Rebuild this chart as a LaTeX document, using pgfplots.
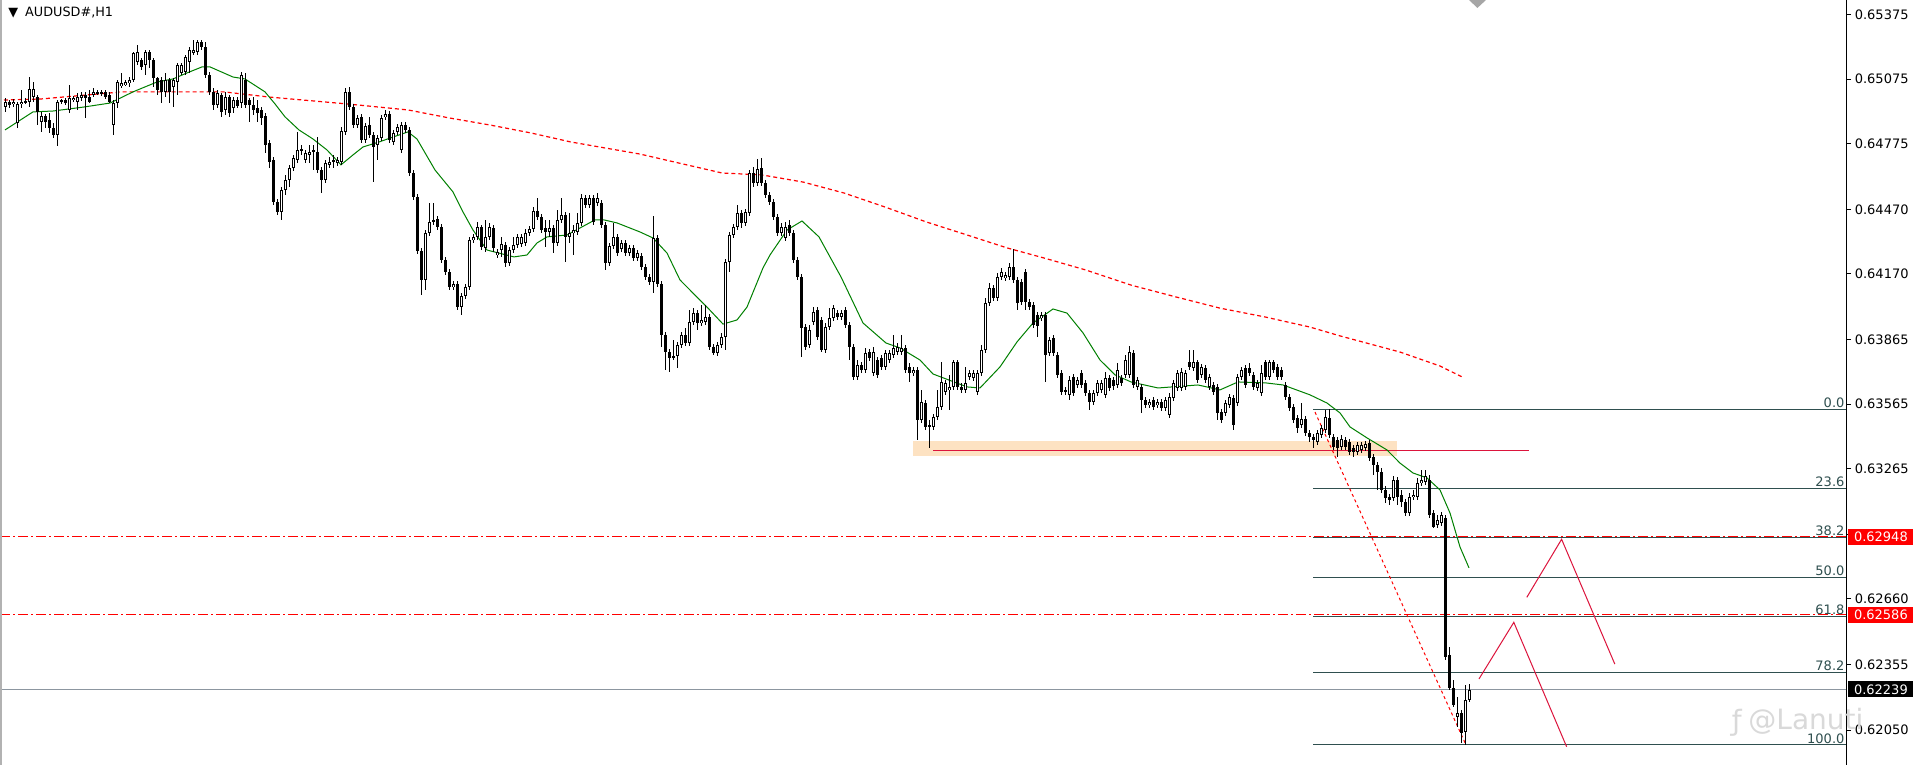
\documentclass[border=0pt]{standalone}
\usepackage{pgfplots}
\usepackage{pgfplotstable}
\pgfplotsset{compat=1.18}
\usepackage{fontspec}
\setmainfont{DejaVu Sans}
\definecolor{fibc}{RGB}{47,79,79}
\definecolor{crim}{RGB}{220,20,60}
\definecolor{boxc}{RGB}{253,226,194}
\definecolor{curc}{RGB}{140,150,160}
\definecolor{mag}{RGB}{0,128,0}

\pgfplotstableread{
i o h l c
0 0.64945 0.64988 0.64923 0.64969
1 0.64969 0.64978 0.64941 0.64955
2 0.64959 0.64983 0.64945 0.64969
3 0.64871 0.64969 0.64848 0.64959
4 0.64959 0.65025 0.64941 0.64969
5 0.64969 0.64988 0.64959 0.64973
6 0.64969 0.65085 0.64945 0.65029
7 0.64992 0.65062 0.64969 0.65029
8 0.64992 0.65002 0.64862 0.64923
9 0.64876 0.64923 0.64830 0.64904
10 0.64904 0.64913 0.64848 0.64876
11 0.64885 0.64918 0.64825 0.64848
12 0.64848 0.64871 0.64802 0.64816
13 0.64816 0.64978 0.64764 0.64969
14 0.64969 0.64983 0.64959 0.64978
15 0.64978 0.64988 0.64955 0.64964
16 0.64932 0.65048 0.64918 0.64988
17 0.64978 0.64997 0.64969 0.64988
18 0.64969 0.65011 0.64932 0.64992
19 0.64988 0.65016 0.64973 0.65002
20 0.65002 0.65016 0.64895 0.64988
21 0.64992 0.65025 0.64964 0.64969
22 0.65002 0.65034 0.64992 0.65016
23 0.65011 0.65025 0.65002 0.65016
24 0.65016 0.65025 0.64997 0.65006
25 0.65016 0.65025 0.64983 0.64992
26 0.65002 0.65016 0.64964 0.64969
27 0.64862 0.64978 0.64816 0.64964
28 0.64964 0.65071 0.64941 0.65062
29 0.65043 0.65104 0.65034 0.65057
30 0.65048 0.65071 0.65043 0.65062
31 0.65057 0.65085 0.65038 0.65071
32 0.65071 0.65202 0.65062 0.65197
33 0.65155 0.65234 0.65141 0.65202
34 0.65164 0.65174 0.65118 0.65131
35 0.65141 0.65211 0.65095 0.65202
36 0.65202 0.65211 0.65127 0.65164
37 0.65164 0.65174 0.65038 0.65081
38 0.65081 0.65085 0.65002 0.65025
39 0.65071 0.65085 0.64964 0.65016
40 0.65016 0.65104 0.64992 0.65071
41 0.65071 0.65081 0.64964 0.65016
42 0.65038 0.65081 0.64945 0.65071
43 0.65062 0.65150 0.65002 0.65141
44 0.65104 0.65150 0.65095 0.65141
45 0.65109 0.65188 0.65095 0.65178
46 0.65155 0.65225 0.65104 0.65211
47 0.65197 0.65257 0.65188 0.65211
48 0.65202 0.65257 0.65188 0.65248
49 0.65248 0.65257 0.65211 0.65225
50 0.65225 0.65248 0.65081 0.65095
51 0.65095 0.65109 0.65002 0.65016
52 0.65016 0.65034 0.64932 0.64955
53 0.64955 0.65025 0.64941 0.65011
54 0.65002 0.65011 0.64900 0.64923
55 0.64932 0.65016 0.64909 0.64992
56 0.64992 0.65002 0.64900 0.64918
57 0.64941 0.64992 0.64918 0.64978
58 0.64978 0.64992 0.64941 0.64950
59 0.64964 0.65109 0.64941 0.65095
60 0.65071 0.65104 0.64941 0.64955
61 0.64978 0.64988 0.64876 0.64955
62 0.64955 0.64992 0.64909 0.64932
63 0.64941 0.64978 0.64876 0.64918
64 0.64932 0.64945 0.64862 0.64895
65 0.64904 0.64918 0.64732 0.64769
66 0.64778 0.64792 0.64663 0.64691
67 0.64700 0.64714 0.64490 0.64505
68 0.64505 0.64519 0.64444 0.64458
69 0.64458 0.64574 0.64421 0.64560
70 0.64560 0.64630 0.64537 0.64607
71 0.64607 0.64677 0.64574 0.64663
72 0.64663 0.64723 0.64649 0.64709
73 0.64700 0.64830 0.64686 0.64746
74 0.64751 0.64769 0.64723 0.64741
75 0.64700 0.64746 0.64686 0.64732
76 0.64723 0.64769 0.64686 0.64737
77 0.64746 0.64769 0.64653 0.64737
78 0.64737 0.64806 0.64639 0.64653
79 0.64653 0.64667 0.64546 0.64607
80 0.64607 0.64700 0.64593 0.64686
81 0.64677 0.64714 0.64663 0.64691
82 0.64695 0.64723 0.64663 0.64700
83 0.64686 0.64714 0.64672 0.64700
84 0.64691 0.64853 0.64677 0.64834
85 0.64830 0.65034 0.64816 0.65016
86 0.65016 0.65038 0.64932 0.64945
87 0.64945 0.64959 0.64848 0.64862
88 0.64862 0.64909 0.64848 0.64895
89 0.64900 0.64913 0.64778 0.64792
90 0.64792 0.64871 0.64778 0.64857
91 0.64862 0.64900 0.64802 0.64816
92 0.64816 0.64830 0.64598 0.64760
93 0.64769 0.64816 0.64700 0.64802
94 0.64802 0.64909 0.64788 0.64895
95 0.64900 0.64932 0.64885 0.64913
96 0.64913 0.64927 0.64778 0.64792
97 0.64783 0.64839 0.64769 0.64825
98 0.64830 0.64867 0.64816 0.64853
99 0.64746 0.64876 0.64732 0.64862
100 0.64862 0.64876 0.64825 0.64839
101 0.64839 0.64853 0.64625 0.64639
102 0.64639 0.64653 0.64514 0.64528
103 0.64528 0.64542 0.64263 0.64277
104 0.64277 0.64291 0.64072 0.64142
105 0.64142 0.64374 0.64095 0.64360
106 0.64360 0.64500 0.64346 0.64412
107 0.64412 0.64500 0.64398 0.64421
108 0.64425 0.64440 0.64374 0.64388
109 0.64388 0.64402 0.64221 0.64235
110 0.64235 0.64249 0.64165 0.64179
111 0.64179 0.64193 0.64095 0.64109
112 0.64109 0.64137 0.64095 0.64123
113 0.64123 0.64137 0.64002 0.64016
114 0.64016 0.64081 0.63979 0.64067
115 0.64067 0.64123 0.64053 0.64109
116 0.64109 0.64342 0.64095 0.64328
117 0.64328 0.64356 0.64314 0.64342
118 0.64342 0.64412 0.64328 0.64388
119 0.64388 0.64398 0.64281 0.64295
120 0.64291 0.64421 0.64272 0.64342
121 0.64342 0.64407 0.64328 0.64388
122 0.64384 0.64398 0.64272 0.64291
123 0.64258 0.64286 0.64244 0.64272
124 0.64281 0.64342 0.64249 0.64309
125 0.64305 0.64319 0.64202 0.64221
126 0.64221 0.64295 0.64207 0.64281
127 0.64281 0.64342 0.64267 0.64305
128 0.64305 0.64356 0.64291 0.64342
129 0.64309 0.64356 0.64295 0.64342
130 0.64314 0.64379 0.64300 0.64360
131 0.64360 0.64393 0.64346 0.64379
132 0.64379 0.64481 0.64365 0.64463
133 0.64463 0.64523 0.64421 0.64435
134 0.64435 0.64449 0.64360 0.64374
135 0.64384 0.64421 0.64295 0.64365
136 0.64365 0.64421 0.64342 0.64384
137 0.64384 0.64398 0.64267 0.64314
138 0.64314 0.64467 0.64300 0.64421
139 0.64421 0.64523 0.64407 0.64444
140 0.64444 0.64458 0.64226 0.64342
141 0.64342 0.64453 0.64314 0.64360
142 0.64360 0.64398 0.64258 0.64374
143 0.64365 0.64453 0.64351 0.64407
144 0.64407 0.64542 0.64393 0.64523
145 0.64523 0.64537 0.64477 0.64490
146 0.64490 0.64537 0.64477 0.64523
147 0.64523 0.64537 0.64398 0.64412
148 0.64500 0.64546 0.64486 0.64523
149 0.64500 0.64514 0.64384 0.64398
150 0.64398 0.64412 0.64188 0.64221
151 0.64221 0.64314 0.64207 0.64300
152 0.64300 0.64407 0.64286 0.64342
153 0.64342 0.64356 0.64253 0.64267
154 0.64286 0.64328 0.64272 0.64314
155 0.64314 0.64328 0.64253 0.64267
156 0.64267 0.64305 0.64253 0.64291
157 0.64291 0.64305 0.64230 0.64244
158 0.64244 0.64281 0.64230 0.64267
159 0.64253 0.64267 0.64188 0.64202
160 0.64202 0.64216 0.64142 0.64156
161 0.64156 0.64170 0.64118 0.64132
162 0.64132 0.64440 0.64081 0.64337
163 0.64337 0.64351 0.64109 0.64123
164 0.64123 0.64137 0.63831 0.63886
165 0.63886 0.63900 0.63724 0.63808
166 0.63808 0.63821 0.63714 0.63780
167 0.63780 0.63863 0.63770 0.63789
168 0.63789 0.63854 0.63733 0.63840
169 0.63840 0.63900 0.63826 0.63886
170 0.63886 0.63919 0.63835 0.63849
171 0.63849 0.64002 0.63835 0.63947
172 0.63947 0.64011 0.63933 0.63988
173 0.63988 0.64002 0.63910 0.63942
174 0.63942 0.64025 0.63928 0.63956
175 0.63947 0.64025 0.63933 0.63970
176 0.63970 0.63984 0.63817 0.63831
177 0.63831 0.63845 0.63794 0.63803
178 0.63803 0.63854 0.63789 0.63840
179 0.63840 0.63896 0.63826 0.63877
180 0.63877 0.64240 0.63817 0.64226
181 0.64226 0.64365 0.64179 0.64351
182 0.64351 0.64402 0.64337 0.64388
183 0.64388 0.64490 0.64374 0.64453
184 0.64453 0.64467 0.64384 0.64407
185 0.64407 0.64472 0.64393 0.64458
186 0.64453 0.64653 0.64440 0.64639
187 0.64639 0.64667 0.64574 0.64593
188 0.64593 0.64704 0.64579 0.64658
189 0.64663 0.64709 0.64579 0.64593
190 0.64593 0.64607 0.64523 0.64537
191 0.64537 0.64551 0.64490 0.64505
192 0.64505 0.64519 0.64421 0.64435
193 0.64435 0.64449 0.64346 0.64360
194 0.64360 0.64407 0.64346 0.64388
195 0.64337 0.64412 0.64323 0.64388
196 0.64398 0.64421 0.64346 0.64360
197 0.64360 0.64374 0.64221 0.64235
198 0.64235 0.64249 0.64142 0.64156
199 0.64156 0.64170 0.63784 0.63919
200 0.63924 0.63938 0.63817 0.63831
201 0.63840 0.63933 0.63826 0.63910
202 0.63947 0.64016 0.63933 0.63993
203 0.64002 0.64016 0.63863 0.63877
204 0.63956 0.63970 0.63808 0.63817
205 0.63817 0.63942 0.63803 0.63924
206 0.63924 0.64011 0.63910 0.63965
207 0.63965 0.64025 0.63951 0.64011
208 0.63988 0.64002 0.63956 0.63970
209 0.63970 0.64002 0.63956 0.63988
210 0.64002 0.64016 0.63919 0.63933
211 0.63933 0.63947 0.63770 0.63831
212 0.63831 0.63845 0.63677 0.63691
213 0.63691 0.63770 0.63677 0.63747
214 0.63747 0.63761 0.63710 0.63724
215 0.63724 0.63826 0.63710 0.63803
216 0.63808 0.63821 0.63766 0.63780
217 0.63710 0.63831 0.63696 0.63808
218 0.63770 0.63784 0.63687 0.63701
219 0.63780 0.63794 0.63724 0.63738
220 0.63738 0.63817 0.63724 0.63803
221 0.63770 0.63817 0.63756 0.63803
222 0.63794 0.63886 0.63780 0.63826
223 0.63808 0.63849 0.63794 0.63831
224 0.63808 0.63886 0.63794 0.63826
225 0.63826 0.63840 0.63710 0.63724
226 0.63738 0.63756 0.63668 0.63710
227 0.63710 0.63738 0.63696 0.63724
228 0.63724 0.63738 0.63398 0.63491
229 0.63491 0.63631 0.63477 0.63575
230 0.63570 0.63584 0.63445 0.63459
231 0.63468 0.63491 0.63361 0.63459
232 0.63459 0.63519 0.63445 0.63505
233 0.63505 0.63631 0.63491 0.63551
234 0.63551 0.63761 0.63538 0.63668
235 0.63622 0.63677 0.63608 0.63664
236 0.63631 0.63701 0.63538 0.63645
237 0.63645 0.63770 0.63631 0.63761
238 0.63761 0.63770 0.63631 0.63645
239 0.63645 0.63664 0.63617 0.63631
240 0.63631 0.63738 0.63617 0.63664
241 0.63691 0.63724 0.63677 0.63710
242 0.63687 0.63724 0.63673 0.63710
243 0.63622 0.63724 0.63608 0.63710
244 0.63710 0.63840 0.63696 0.63817
245 0.63817 0.64058 0.63803 0.64035
246 0.64035 0.64128 0.64021 0.64104
247 0.64104 0.64118 0.64044 0.64058
248 0.64058 0.64174 0.64044 0.64156
249 0.64156 0.64198 0.64142 0.64179
250 0.64151 0.64179 0.64137 0.64165
251 0.64156 0.64221 0.64142 0.64202
252 0.64202 0.64286 0.64128 0.64142
253 0.64142 0.64156 0.64002 0.64035
254 0.64132 0.64146 0.64025 0.64039
255 0.64179 0.64193 0.64002 0.64039
256 0.64039 0.64053 0.64002 0.64016
257 0.64025 0.64039 0.63919 0.63933
258 0.63979 0.63993 0.63877 0.63928
259 0.63965 0.63993 0.63951 0.63979
260 0.63979 0.63993 0.63668 0.63794
261 0.63803 0.63877 0.63789 0.63863
262 0.63872 0.63886 0.63789 0.63803
263 0.63794 0.63808 0.63687 0.63701
264 0.63710 0.63724 0.63608 0.63622
265 0.63622 0.63645 0.63608 0.63631
266 0.63608 0.63696 0.63584 0.63677
267 0.63691 0.63705 0.63603 0.63617
268 0.63654 0.63691 0.63640 0.63677
269 0.63710 0.63724 0.63640 0.63654
270 0.63664 0.63677 0.63603 0.63617
271 0.63617 0.63631 0.63538 0.63575
272 0.63575 0.63631 0.63561 0.63617
273 0.63617 0.63677 0.63603 0.63664
274 0.63631 0.63677 0.63617 0.63664
275 0.63608 0.63714 0.63594 0.63687
276 0.63687 0.63701 0.63626 0.63640
277 0.63677 0.63691 0.63631 0.63650
278 0.63654 0.63756 0.63640 0.63724
279 0.63687 0.63701 0.63650 0.63664
280 0.63701 0.63794 0.63687 0.63770
281 0.63701 0.63835 0.63687 0.63808
282 0.63803 0.63817 0.63640 0.63654
283 0.63645 0.63691 0.63631 0.63677
284 0.63645 0.63659 0.63524 0.63584
285 0.63584 0.63598 0.63547 0.63561
286 0.63561 0.63589 0.63547 0.63575
287 0.63584 0.63598 0.63538 0.63551
288 0.63561 0.63589 0.63547 0.63575
289 0.63575 0.63589 0.63533 0.63547
290 0.63547 0.63598 0.63533 0.63584
291 0.63514 0.63617 0.63500 0.63598
292 0.63594 0.63677 0.63580 0.63664
293 0.63640 0.63724 0.63626 0.63710
294 0.63640 0.63733 0.63626 0.63714
295 0.63645 0.63724 0.63631 0.63710
296 0.63761 0.63817 0.63724 0.63738
297 0.63733 0.63817 0.63719 0.63761
298 0.63761 0.63770 0.63664 0.63677
299 0.63701 0.63752 0.63687 0.63738
300 0.63733 0.63747 0.63664 0.63677
301 0.63645 0.63705 0.63631 0.63691
302 0.63654 0.63668 0.63608 0.63622
303 0.63645 0.63659 0.63491 0.63524
304 0.63528 0.63542 0.63477 0.63491
305 0.63524 0.63584 0.63510 0.63570
306 0.63561 0.63612 0.63547 0.63598
307 0.63594 0.63608 0.63445 0.63468
308 0.63570 0.63705 0.63556 0.63691
309 0.63691 0.63738 0.63677 0.63724
310 0.63733 0.63747 0.63640 0.63654
311 0.63733 0.63756 0.63696 0.63710
312 0.63701 0.63714 0.63631 0.63645
313 0.63640 0.63677 0.63626 0.63664
314 0.63617 0.63747 0.63603 0.63710
315 0.63761 0.63770 0.63677 0.63691
316 0.63691 0.63770 0.63677 0.63761
317 0.63761 0.63770 0.63710 0.63724
318 0.63738 0.63752 0.63677 0.63691
319 0.63724 0.63738 0.63677 0.63691
320 0.63654 0.63668 0.63584 0.63598
321 0.63598 0.63612 0.63533 0.63547
322 0.63551 0.63565 0.63477 0.63491
323 0.63500 0.63514 0.63431 0.63454
324 0.63468 0.63570 0.63454 0.63495
325 0.63495 0.63510 0.63417 0.63431
326 0.63431 0.63445 0.63389 0.63412
327 0.63412 0.63426 0.63361 0.63398
328 0.63389 0.63445 0.63375 0.63431
329 0.63421 0.63468 0.63407 0.63454
330 0.63445 0.63538 0.63431 0.63505
331 0.63500 0.63542 0.63407 0.63421
332 0.63412 0.63426 0.63352 0.63366
333 0.63398 0.63412 0.63319 0.63361
334 0.63366 0.63421 0.63352 0.63403
335 0.63398 0.63412 0.63352 0.63366
336 0.63389 0.63403 0.63328 0.63342
337 0.63361 0.63375 0.63319 0.63342
338 0.63342 0.63389 0.63328 0.63375
339 0.63352 0.63389 0.63338 0.63375
340 0.63361 0.63394 0.63347 0.63380
341 0.63384 0.63398 0.63300 0.63314
342 0.63319 0.63333 0.63235 0.63282
343 0.63282 0.63296 0.63166 0.63249
344 0.63249 0.63268 0.63152 0.63166
345 0.63166 0.63185 0.63106 0.63129
346 0.63133 0.63147 0.63097 0.63120
347 0.63129 0.63231 0.63115 0.63213
348 0.63213 0.63226 0.63097 0.63133
349 0.63143 0.63166 0.63087 0.63110
350 0.63110 0.63124 0.63045 0.63059
351 0.63059 0.63152 0.63045 0.63133
352 0.63133 0.63166 0.63120 0.63143
353 0.63133 0.63222 0.63120 0.63199
354 0.63199 0.63259 0.63185 0.63213
355 0.63203 0.63259 0.63189 0.63231
356 0.63213 0.63236 0.63036 0.63050
357 0.63059 0.63073 0.62990 0.62994
358 0.63004 0.63050 0.62990 0.63027
359 0.63013 0.63064 0.62999 0.63050
360 0.63036 0.63050 0.62376 0.62390
361 0.62399 0.62436 0.62237 0.62246
362 0.62246 0.62283 0.62158 0.62167
363 0.62111 0.62204 0.62065 0.62130
364 0.62130 0.62144 0.61990 0.62037
365 0.62041 0.62260 0.61981 0.62190
366 0.62190 0.62265 0.62181 0.62239
}\candles

\pgfplotstableread{
i v
0 0.64839
7 0.64923
12 0.64927
19.5 0.64945
26.25 0.64964
32 0.65016
38 0.65062
42 0.65076
45.5 0.65104
49.25 0.65132
51.25 0.65132
57 0.65085
60 0.65076
65 0.65016
67.5 0.64960
70 0.64900
73.5 0.64839
77 0.64797
80.5 0.64746
84 0.64677
87 0.64723
89.5 0.64760
93.5 0.64783
97 0.64806
100.75 0.64830
103 0.64797
107.5 0.64653
112 0.64551
114.5 0.64458
117 0.64374
120.5 0.64281
127.25 0.64249
130.5 0.64258
133 0.64314
135.5 0.64342
140.5 0.64351
147.5 0.64421
149.75 0.64421
153 0.64407
158.75 0.64365
162 0.64337
165.5 0.64267
168.75 0.64142
172 0.64081
175.5 0.64016
179.5 0.63937
183 0.63956
185.5 0.64016
189.5 0.64198
191.25 0.64258
195.5 0.64374
199.25 0.64416
203.5 0.64342
209 0.64156
214.5 0.63942
220.25 0.63849
223.75 0.63826
228.75 0.63770
232 0.63705
240.5 0.63645
243.75 0.63640
248.75 0.63738
253 0.63854
257 0.63942
262 0.64007
265.5 0.63988
269.5 0.63896
273.75 0.63770
277.5 0.63701
281.5 0.63668
288.25 0.63640
298.25 0.63654
303.75 0.63631
308.25 0.63668
315 0.63664
319.5 0.63654
326.25 0.63608
330.5 0.63570
333.75 0.63524
336.25 0.63459
340.5 0.63408
345.5 0.63352
348.75 0.63291
352 0.63245
355.5 0.63222
358.75 0.63166
361.25 0.63059
363.75 0.62901
366 0.62804
}\maA

\pgfplotstableread{
i v
-0.25 0.64978
9 0.64983
29.25 0.65016
47.75 0.65016
54.75 0.65016
66 0.64992
85.5 0.64960
100.75 0.64932
111 0.64895
121.25 0.64862
131.5 0.64825
141.5 0.64783
158.75 0.64727
179.25 0.64639
189.25 0.64630
199.5 0.64597
209.75 0.64546
220 0.64481
230.25 0.64412
240.5 0.64351
250.5 0.64291
259.75 0.64244
270.25 0.64188
281.5 0.64118
292.75 0.64063
303.75 0.64011
315 0.63970
326.25 0.63923
333.75 0.63882
348.75 0.63807
358.75 0.63742
364.75 0.63687
}\maB

\pgfplotsset{
  candlebar/.style 2 args={mark=none, draw=none, forget plot,
    error bars/.cd, y dir=both, y explicit, error mark=none,
    error bar style={draw=#1, line width=#2, line cap=butt, line join=miter}},
}

\begin{document}
\begin{tikzpicture}
\useasboundingbox (0pt,0pt) rectangle (956.5pt,382.5pt);
\fill[white] (0pt,0pt) rectangle (956.5pt,382.5pt);
\begin{axis}[
  at={(0pt,0pt)}, anchor=south west,
  scale only axis, width=923pt, height=382.5pt,
  xmin=-1.25, xmax=460.25, ymin=0.61888, ymax=0.65443,
  axis x line=none, axis y line*=right,
  axis line style={black, line width=0.5pt},
  ytick={0.62050,0.62355,0.62660,0.62960,0.63265,0.63565,0.63865,0.64170,0.64470,0.64775,0.65075,0.65375},
  yticklabels={0.62050,0.62355,0.62660,0.62960,0.63265,0.63565,0.63865,0.64170,0.64470,0.64775,0.65075,0.65375},
  tick align=outside, major tick length=2.5pt,
  tick style={black, line width=0.5pt},
  y tick label style={font=\fontsize{6.5}{7}\selectfont, inner sep=1.7pt},
  clip=false,
  unbounded coords=discard,
]
% orange zone
\addplot[draw=none, fill=boxc, forget plot] coordinates {(227,0.63394) (348,0.63394) (348,0.63326) (227,0.63326)} -- cycle;
% horizontal levels
\addplot[crim, line width=0.5pt] coordinates {(232,0.63350) (381,0.63350)};
\addplot[red, line width=0.5pt, dash pattern=on 5pt off 1.5pt on 1pt off 1.5pt] coordinates {(-1.25,0.62948) (460.25,0.62948)};
\addplot[curc, line width=0.5pt] coordinates {(-1.25,0.62239) (460.25,0.62239)};
% fibonacci
\addplot[fibc, line width=0.5pt] coordinates {(327,0.63541) (460.25,0.63541)};
\addplot[fibc, line width=0.5pt] coordinates {(327,0.63173) (460.25,0.63173)};
\addplot[fibc, line width=0.5pt] coordinates {(327,0.62945) (460.25,0.62945)};
\addplot[fibc, line width=0.5pt] coordinates {(327,0.62761) (460.25,0.62761)};
\addplot[fibc, line width=0.5pt] coordinates {(327,0.62577) (460.25,0.62577)};
\addplot[fibc, line width=0.5pt] coordinates {(327,0.62320) (460.25,0.62320)};
\addplot[fibc, line width=0.5pt] coordinates {(327,0.61981) (460.25,0.61981)};
\addplot[red, line width=0.6pt, dash pattern=on 5pt off 1.5pt on 1pt off 1.5pt] coordinates {(-1.25,0.62586) (460.25,0.62586)};
% diagonal dotted
\addplot[red, line width=0.5pt, dash pattern=on 1.5pt off 1.5pt] coordinates {(327.5,0.63528) (365.25,0.61981)};
% moving averages
\addplot[red, line width=0.6pt, dash pattern=on 2pt off 1.5pt] table[x=i,y=v] {\maB};
\addplot[mag, line width=0.5pt] table[x=i,y=v] {\maA};
% wicks
\addplot[candlebar={black}{0.5pt}]
  table[x=i, y expr={(\thisrow{h}+\thisrow{l})/2}, y error expr={(\thisrow{h}-\thisrow{l})/2}] {\candles};
% bodies
\addplot[candlebar={black}{1.5pt}]
  table[x=i, y expr={(\thisrow{o}+\thisrow{c})/2}, y error expr={max(abs(\thisrow{o}-\thisrow{c})/2,0.0000233)}] {\candles};
% hollow interiors (bullish candles only)
\addplot[candlebar={white}{0.5pt}]
  table[x=i, y expr={(\thisrow{c}-\thisrow{o} > 0.0000931) ? (\thisrow{o}+\thisrow{c})/2 : nan}, y error expr={(\thisrow{c}-\thisrow{o})/2-0.0000465}] {\candles};
% zigzag arrows
\addplot[crim, line width=0.5pt] coordinates {(368.5,0.62288) (377.2,0.62551) (390.4,0.61973)};
\addplot[crim, line width=0.5pt] coordinates {(380.45,0.62667) (389.15,0.62937) (402.45,0.62357)};
% top marker
\addplot[draw=none, fill=gray!70, forget plot] coordinates {(366,0.65443) (370.25,0.65443) (368.1,0.65406)} -- cycle;
% fib labels
\node[anchor=south east, inner sep=0.6pt, text=fibc, font=\fontsize{6.5}{7}\selectfont] at (axis cs:460.25,0.63541) {0.0};
\node[anchor=south east, inner sep=0.6pt, text=fibc, font=\fontsize{6.5}{7}\selectfont] at (axis cs:460.25,0.63173) {23.6};
\node[anchor=south east, inner sep=0.6pt, text=fibc, font=\fontsize{6.5}{7}\selectfont] at (axis cs:460.25,0.62945) {38.2};
\node[anchor=south east, inner sep=0.6pt, text=fibc, font=\fontsize{6.5}{7}\selectfont] at (axis cs:460.25,0.62761) {50.0};
\node[anchor=south east, inner sep=0.6pt, text=fibc, font=\fontsize{6.5}{7}\selectfont] at (axis cs:460.25,0.62577) {61.8};
\node[anchor=south east, inner sep=0.6pt, text=fibc, font=\fontsize{6.5}{7}\selectfont] at (axis cs:460.25,0.62320) {78.2};
\node[anchor=south east, inner sep=0.6pt, text=fibc, font=\fontsize{6.5}{7}\selectfont] at (axis cs:460.25,0.61981) {100.0};
\coordinate (pA) at (axis cs:460.25,0.62948);
\coordinate (pB) at (axis cs:460.25,0.62586);
\coordinate (pC) at (axis cs:460.25,0.62239);
\end{axis}
\draw[gray!60, line width=1pt] (0.6pt,0pt) -- (0.6pt,382.5pt);
\node[anchor=west, inner sep=0pt, font=\fontsize{6.4}{7}\selectfont] at (4pt,376.2pt) {▼\hspace{3.5pt}AUDUSD\#,H1};
\foreach \p/\t/\c in {pA/0.62948/red, pB/0.62586/red, pC/0.62239/black}{
  \node[anchor=west, fill=\c, text=white, minimum width=32.5pt, minimum height=8pt, inner sep=0pt,
        font=\fontsize{6.5}{7}\selectfont] at ([xshift=1pt]\p) {\t};
}
\node[anchor=west, inner sep=0pt, text=gray!30, font=\fontsize{14}{15}\selectfont] at (874pt,22pt) {@Lanuti};
\node[anchor=east, inner sep=0pt, text=gray!30, font=\fontsize{14}{15}\selectfont] at (871pt,21pt) {ƒ};
\end{tikzpicture}
\end{document}
